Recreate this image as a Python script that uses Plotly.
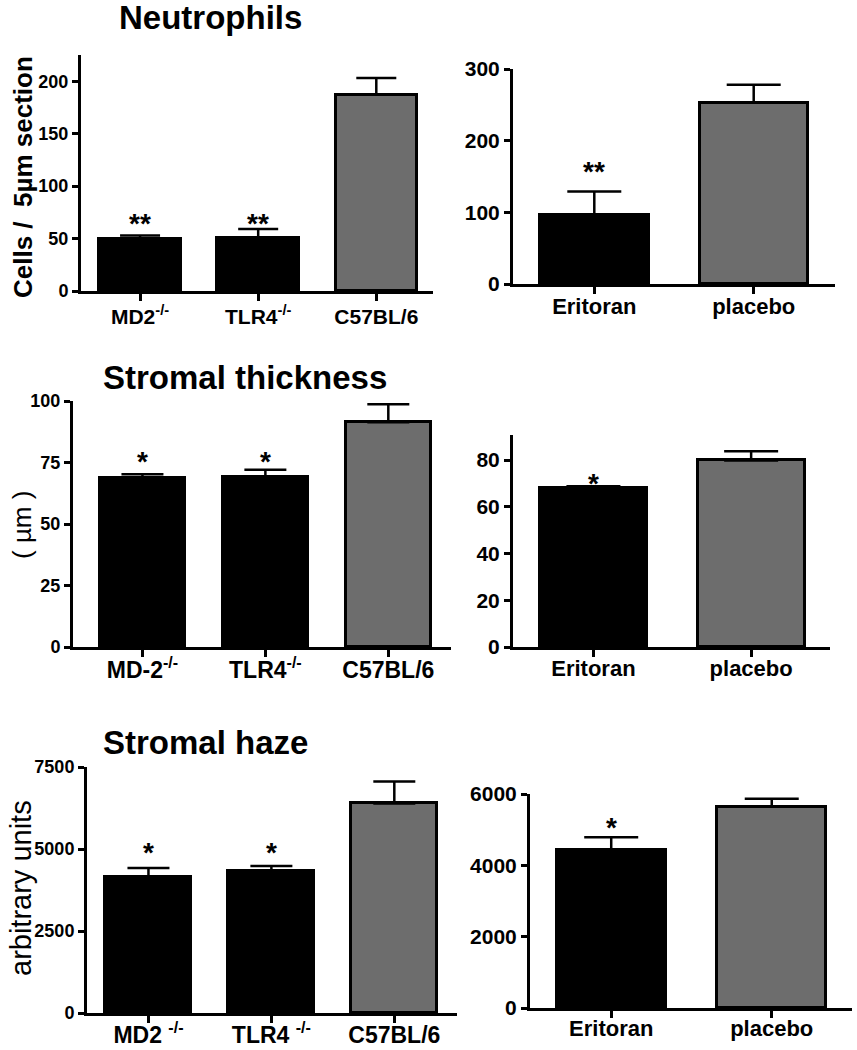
import plotly.graph_objects as go

# ---------------- data ----------------
mice_groups_a = ["MD2<sup>-/-</sup>", "TLR4<sup>-/-</sup>", "C57BL/6"]
mice_groups_b = ["MD-2<sup>-/-</sup>", "TLR4<sup>-/-</sup>", "C57BL/6"]
mice_groups_c = ["MD2 <sup>-/-</sup>", "TLR4 <sup>-/-</sup>", "C57BL/6"]
drug_groups = ["Eritoran", "placebo"]

neut_mice = [49.5, 50.5, 187]
neut_mice_err = [3.5, 8.5, 16]
neut_drug = [96, 253]
neut_drug_err = [33, 25]

thick_mice = [68.6, 69.1, 91.4]
thick_mice_err = [1.6, 3.0, 7.3]
thick_drug = [67.9, 79.8]
thick_drug_err = [0.9, 4.0]

haze_mice = [4134, 4338, 6390]
haze_mice_err = [290, 145, 670]
haze_drug = [4440, 5640]
haze_drug_err = [345, 225]

sig_mice_2 = ["**", "**", ""]
sig_mice_1 = ["*", "*", ""]
sig_drug_2 = ["**", ""]
sig_drug_1 = ["*", ""]

sig_y_neut_mice = 70
sig_y_neut_drug = 165
sig_y_thick_mice = 78
sig_y_thick_drug = 72.7
sig_y_haze_mice = 5080
sig_y_haze_drug = 5234

mice_colors = ["#000000", "#000000", "#6d6d6d"]
drug_colors = ["#000000", "#6d6d6d"]

# ---------------- layout helpers ----------------
W, H = 857, 1050
FONT = "Arial, 'Liberation Sans', Helvetica, sans-serif"

def xd(a, b):
    return [a / W, b / W]

def yd(top, bottom):
    return [1 - bottom / H, 1 - top / H]

panels = [
    dict(cats=mice_groups_a, vals=neut_mice, errs=neut_mice_err, colors=mice_colors,
         sig=sig_mice_2, sig_y=sig_y_neut_mice, xdom=xd(81, 433), ydom=yd(55, 291),
         yrange=[0, 225], dtick=50, xrange=[-0.5, 2.48], barw=0.69, capw=20, tickfs=18, catfs=21,
         xstand=-2),
    dict(cats=drug_groups, vals=neut_drug, errs=neut_drug_err, colors=drug_colors,
         sig=sig_drug_2, sig_y=sig_y_neut_drug, xdom=xd(513, 835), ydom=yd(69, 284),
         yrange=[0, 300], dtick=100, xrange=[-0.51, 1.51], barw=0.68, capw=27, tickfs=21, catfs=22,
         xstand=-6),
    dict(cats=mice_groups_b, vals=thick_mice, errs=thick_mice_err, colors=mice_colors,
         sig=sig_mice_1, sig_y=sig_y_thick_mice, xdom=xd(73, 451), ydom=yd(401, 647),
         yrange=[0, 100], dtick=25, xrange=[-0.565, 2.51], barw=0.69, capw=21, tickfs=18, catfs=23,
         xstand=-7),
    dict(cats=drug_groups, vals=thick_drug, errs=thick_drug_err, colors=drug_colors,
         sig=sig_drug_1, sig_y=sig_y_thick_drug, xdom=xd(513, 830), ydom=yd(435, 647),
         yrange=[0, 90.7], dtick=20, xrange=[-0.51, 1.5], barw=0.68, capw=27, tickfs=21, catfs=22,
         xstand=-7),
    dict(cats=mice_groups_c, vals=haze_mice, errs=haze_mice_err, colors=mice_colors,
         sig=sig_mice_1, sig_y=sig_y_haze_mice, xdom=xd(87, 457), ydom=yd(767, 1013),
         yrange=[0, 7500], dtick=2500, xrange=[-0.5, 2.51], barw=0.70, capw=21, tickfs=18, catfs=23,
         xstand=-8),
    dict(cats=drug_groups, vals=haze_drug, errs=haze_drug_err, colors=drug_colors,
         sig=sig_drug_1, sig_y=sig_y_haze_drug, xdom=xd(530, 852), ydom=yd(794, 1008),
         yrange=[0, 6000], dtick=2000, xrange=[-0.506, 1.5], barw=0.68, capw=27, tickfs=21, catfs=22,
         xstand=-8),
]

fig = go.Figure()
annotations = []
layout = dict(
    width=W, height=H,
    margin=dict(l=0, r=0, t=0, b=0),
    paper_bgcolor="white", plot_bgcolor="white",
    showlegend=False,
    font=dict(family=FONT, color="black"),
    bargap=0,
)

for i, p in enumerate(panels, start=1):
    xa = "x" if i == 1 else f"x{i}"
    ya = "y" if i == 1 else f"y{i}"
    n = len(p["cats"])
    xs = list(range(n))
    fig.add_trace(go.Bar(
        x=xs, y=p["vals"], width=p["barw"],
        marker=dict(color=p["colors"], line=dict(color="black", width=3)),
        error_y=dict(type="data", symmetric=False, array=p["errs"],
                     arrayminus=[0] * n, color="black", thickness=2.5, width=p["capw"]),
        xaxis=xa, yaxis=ya, hoverinfo="skip",
    ))
    layout["xaxis" if i == 1 else f"xaxis{i}"] = dict(
        domain=p["xdom"], anchor=ya, range=p["xrange"], automargin=False,
        tickmode="array", tickvals=xs, ticktext=p["cats"],
        showline=True, linecolor="black", linewidth=3,
        ticks="outside", ticklen=7, tickwidth=3, tickcolor="black",
        showgrid=False, zeroline=False, ticklabelstandoff=p["xstand"],
        tickfont=dict(family=FONT, size=p["catfs"], color="black", weight="bold"),
    )
    layout["yaxis" if i == 1 else f"yaxis{i}"] = dict(
        domain=p["ydom"], anchor=xa, range=p["yrange"], automargin=False,
        tickmode="linear", tick0=0, dtick=p["dtick"],
        showline=True, linecolor="black", linewidth=3,
        ticks="outside", ticklen=6, tickwidth=3, tickcolor="black",
        showgrid=False, zeroline=False, ticklabelstandoff=0,
        tickfont=dict(family=FONT, size=p["tickfs"], color="black", weight="bold"),
    )
    for k, s in enumerate(p["sig"]):
        if s:
            annotations.append(dict(
                x=k, y=p["sig_y"], xref=xa, yref=ya, text=s, showarrow=False,
                xanchor="center", yanchor="middle", yshift=-6,
                font=dict(family=FONT, size=28, color="black", weight="bold"),
            ))

# panel titles
titles = [("Neutrophils", 210, 17), ("Stromal thickness", 245, 377), ("Stromal haze", 205, 742)]
for t, px, py in titles:
    annotations.append(dict(
        x=px / W, y=1 - py / H, xref="paper", yref="paper", text=t, showarrow=False,
        xanchor="center", yanchor="middle",
        font=dict(family=FONT, size=33, color="black", weight="bold"),
    ))

# y-axis titles
ytitles = [("Cells /  5µm section", 23, 177, 26, "bold"),
           ("( µm )", 22, 525, 26, "normal"),
           ("arbitrary units", 21, 888, 29, "normal")]
for t, px, py, fs, wt in ytitles:
    annotations.append(dict(
        x=px / W, y=1 - py / H, xref="paper", yref="paper", text=t, showarrow=False,
        xanchor="center", yanchor="middle", textangle=-90,
        font=dict(family=FONT, size=fs, color="black", weight=wt),
    ))

layout["annotations"] = annotations
fig.update_layout(**layout)
fig.write_html("out.html", config={"displayModeBar": False},
               post_script="document.body.style.margin='0';document.body.style.padding='0';")
